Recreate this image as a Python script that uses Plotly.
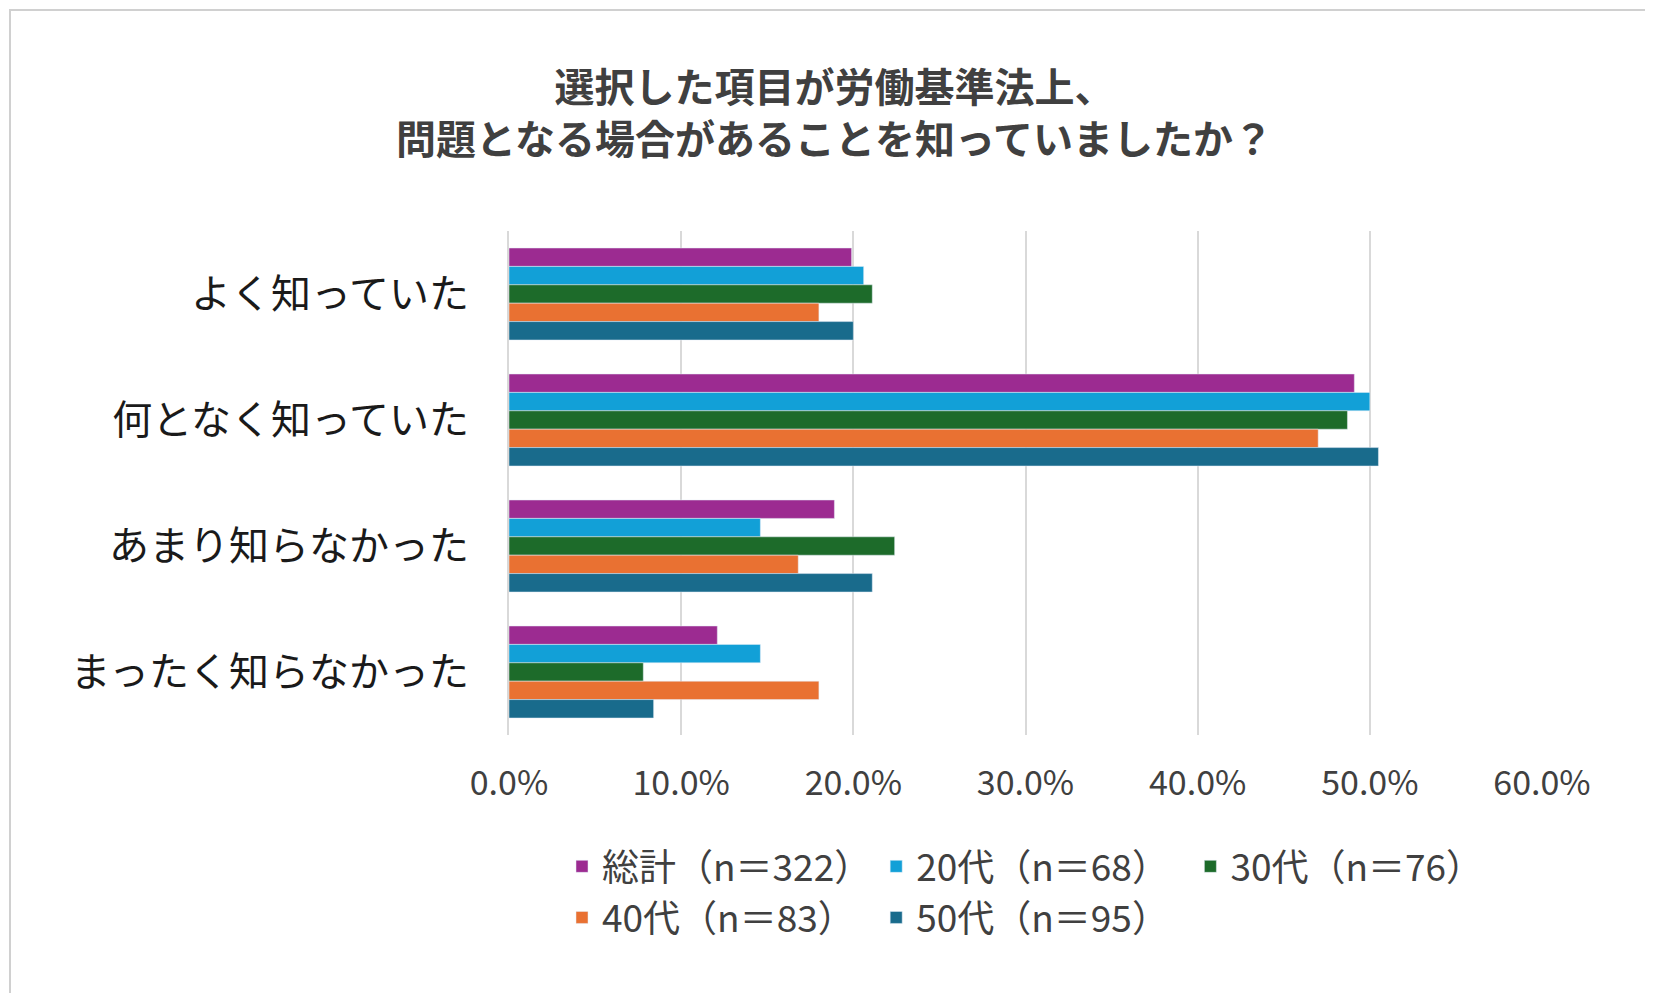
import plotly.graph_objects as go

categories = ["よく知っていた", "何となく知っていた", "あまり知らなかった", "まったく知らなかった"]
series_names = ["総計（n＝322）", "20代（n＝68）", "30代（n＝76）", "40代（n＝83）", "50代（n＝95）"]
values = [
    [0.199, 0.491, 0.189, 0.121],
    [0.206, 0.500, 0.146, 0.146],
    [0.211, 0.487, 0.224, 0.078],
    [0.180, 0.470, 0.168, 0.180],
    [0.200, 0.505, 0.211, 0.084],
]
colors = ["#9C2B91", "#12A0D7", "#1D6B2A", "#E97132", "#196B8C"]

font = "Noto Sans CJK JP"
fig = go.Figure()
for name, vals, col in zip(series_names, values, colors):
    fig.add_trace(go.Bar(y=categories, x=vals, name=name, orientation="h",
                         marker_color=col))

W, H = 1653, 993
L, R, T, B = 501, 119, 223, 266
pw, ph = W - L - R, H - T - B

fig.update_layout(
    width=W, height=H,
    paper_bgcolor="white", plot_bgcolor="white",
    font=dict(family=font, color="#404040"),
    title=dict(text="<b>選択した項目が労働基準法上、<br>問題となる場合があることを知っていましたか？</b>",
               x=0.5, xanchor="center", y=0.905, yanchor="middle",
               font=dict(size=40, color="#404040")),
    barmode="group", bargap=0.27, bargroupgap=0,
    xaxis=dict(range=[0, 0.6], dtick=0.1, tickformat=".1%", showgrid=True,
               gridcolor="#D9D9D9", gridwidth=2, zeroline=False,
               tickfont=dict(size=34, color="#404040"), ticks="outside", ticklen=18,
               tickcolor="white"),
    yaxis=dict(autorange="reversed", tickfont=dict(size=40, color="#1a1a1a"),
               ticks="outside", ticklen=30, tickcolor="white", automargin=False,
               showline=True, linecolor="#D9D9D9", linewidth=2),
    legend=dict(orientation="h", x=0.5, xanchor="center", y=-0.2, yanchor="top",
                font=dict(size=37, color="#404040"), traceorder="normal",
                itemwidth=30, tracegroupgap=0),
    margin=dict(l=L, r=R, t=T, b=B),
)
fig.add_shape(type="rect", xref="paper", yref="paper",
              x0=-(L - 2) / pw, x1=1 + (R - 2) / pw,
              y0=-(B - 2) / ph, y1=1 + (T - 2) / ph,
              line=dict(width=2, color="#D0D0D0"), layer="below")
fig.write_html("out.html")
